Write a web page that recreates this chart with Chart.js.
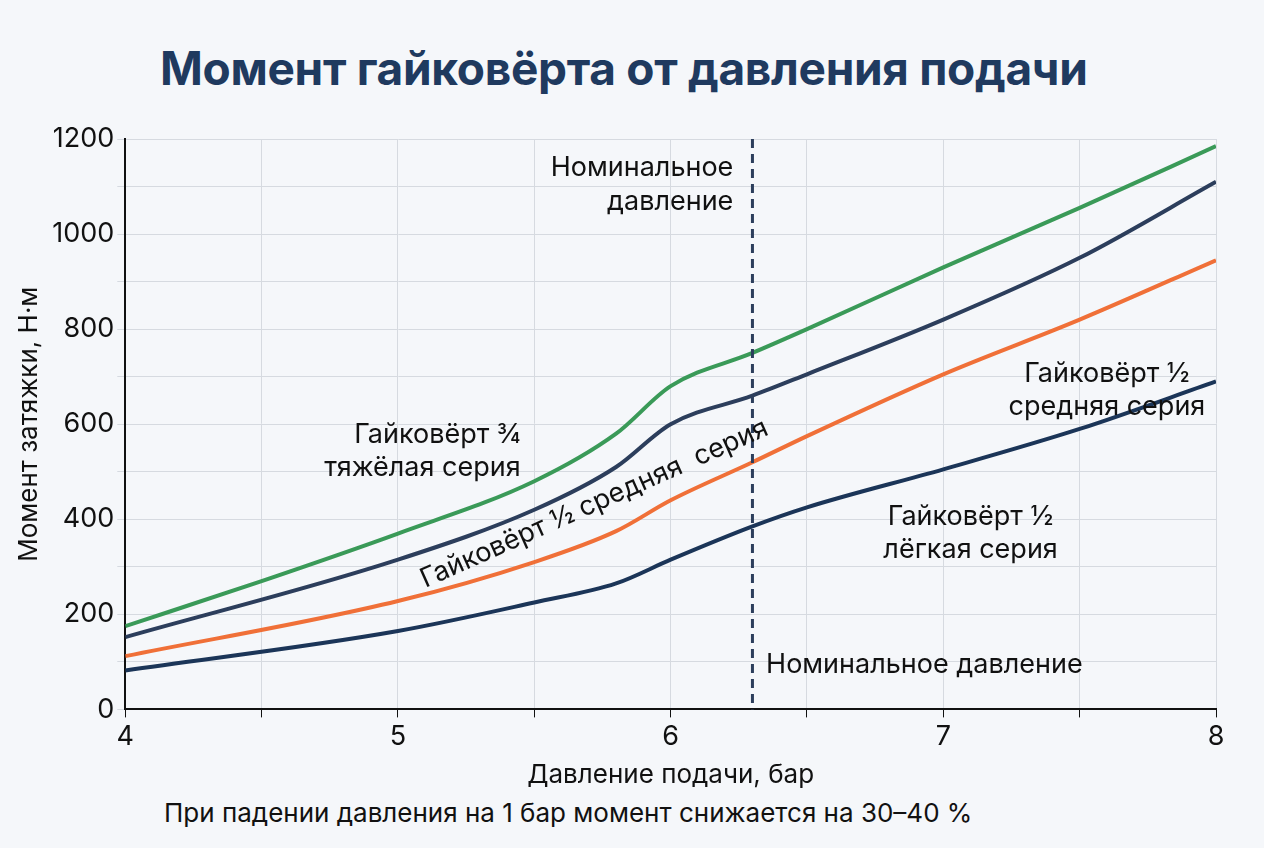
<!DOCTYPE html>
<html><head><meta charset="utf-8">
<script src="https://cdn.jsdelivr.net/npm/chart.js@4"></script>
<style>
body{margin:0;background:#f5f7fa;width:1264px;height:848px;overflow:hidden;font-family:Inter,Roboto,sans-serif;}
#t{position:absolute;left:160px;top:40px;font-size:46px;font-weight:700;color:#1f3a5f;letter-spacing:-0.3px}
#f{position:absolute;left:164px;top:797px;font-size:26px;color:#111}
#w{position:absolute;left:0;top:110px;width:1264px;height:685px}
</style></head><body>
<div id="t">Момент гайковёрта от давления подачи</div>
<div id="f">При падении давления на 1 бар момент снижается на 30–40 %</div>
<div id="w"><canvas id="c"></canvas></div>
<script>
const xHeavy=[4,4.5,5,5.5,5.8,6,6.3,6.5,7,7.5,8];
const heavy=[175,270,370,480,580,680,750,800,930,1055,1185];
const xMid=[4,5,5.5,5.8,6,6.3,6.5,7,7.5,8];
const midDark=[152,315,420,510,600,660,705,820,950,1110];
const midOrange=[112,228,310,375,440,520,575,705,820,945];
const light=[82,165,225,265,315,385,425,505,590,690];
const nominal=6.3;
const pts=(xs,ys)=>xs.map((x,i)=>({x,y:ys[i]}));
const F='27px Inter, Roboto, sans-serif';
const ann={id:'ann',afterDatasetsDraw(c){
 const g=c.ctx,X=c.scales.x,Y=c.scales.y,a=c.chartArea;
 g.save();
 g.strokeStyle='#2c3e5c';g.lineWidth=3;g.setLineDash([9,6]);
 const px=X.getPixelForValue(nominal);
 g.beginPath();g.moveTo(px,a.top);g.lineTo(px,a.bottom);g.stroke();g.setLineDash([]);
 g.font=F;g.fillStyle='#111';g.textBaseline='middle';
 const T=(s,x,y,al)=>{g.textAlign=al;g.fillText(s,X.getPixelForValue(x),Y.getPixelForValue(y));};
 T('Номинальное',nominal-0.07,1140,'right');T('давление',nominal-0.07,1068,'right');
 T('Номинальное давление',nominal+0.05,93,'left');
 T('Гайковёрт ¾',5.45,578,'right');T('тяжёлая серия',5.45,508,'right');
 T('Гайковёрт ½',7.6,705,'center');T('средняя серия',7.6,637,'center');
 T('Гайковёрт ½',7.1,405,'center');T('лёгкая серия',7.1,335,'center');
 g.save();g.translate(X.getPixelForValue(5.72),Y.getPixelForValue(433));g.rotate(-0.42);
 g.textAlign='center';g.fillText('Гайковёрт ½ средняя  серия',0,0);g.restore();
 g.restore();}};
const ds=(d,c)=>({data:d,borderColor:c,borderWidth:4,pointRadius:0,tension:0.4,cubicInterpolationMode:'monotone'});
new Chart(document.getElementById('c'),{type:'line',
data:{datasets:[ds(pts(xHeavy,heavy),'#3a9a58'),ds(pts(xMid,midDark),'#2c3e5c'),ds(pts(xMid,midOrange),'#f07038'),ds(pts(xMid,light),'#1b3558')]},
options:{responsive:true,maintainAspectRatio:false,animation:false,
layout:{padding:{left:10,top:29,right:48}},
plugins:{legend:{display:false},tooltip:{enabled:false}},
scales:{
x:{type:'linear',min:4,max:8,border:{color:'#111',width:2},grid:{color:'#d6dae0',tickLength:8,tickColor:'#111'},
 ticks:{stepSize:0.5,color:'#111',font:{size:27,family:'Inter'},callback:v=>Number.isInteger(v)?v:''},
 title:{display:true,text:'Давление подачи, бар',color:'#111',font:{size:26,family:'Inter'}}},
y:{min:0,max:1200,border:{color:'#111',width:2},grid:{color:'#d6dae0'},
 ticks:{stepSize:100,color:'#111',font:{size:27,family:'Inter'},callback:v=>v%200===0?v:''},
 title:{display:true,text:'Момент затяжки, Н·м',color:'#111',font:{size:26,family:'Inter'}}}}},
plugins:[ann]});
</script></body></html>
